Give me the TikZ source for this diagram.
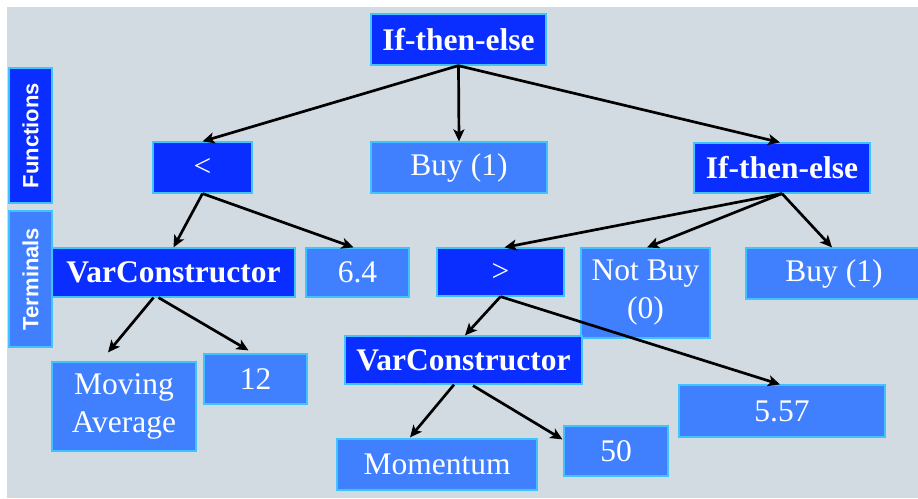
\documentclass[tikz,border=0pt]{standalone}
\usepackage{fontspec}
\setmainfont{Liberation Serif}
\newfontfamily\lsans{Liberation Sans}
\usetikzlibrary{arrows.meta}
\definecolor{bgray}{HTML}{D3DBE2}
\definecolor{dkblue}{HTML}{0A2EFF}
\definecolor{ltblue}{HTML}{4080FF}
\definecolor{edgecyan}{HTML}{40C4FF}
\tikzset{
  box/.style={draw=edgecyan, line width=1.2pt, inner sep=0pt, text=white, align=center,
    font=\fontsize{31.5}{38}\selectfont},
  dk/.style={box, fill=dkblue, font=\fontsize{31.5}{38}\selectfont\bfseries},
  dkop/.style={box, fill=dkblue},
  lt/.style={box, fill=ltblue},
  side/.style={draw=edgecyan, line width=1.2pt, inner sep=0pt, text=white, rotate=90,
    font=\fontsize{22}{24}\selectfont\lsans\bfseries},
  arr/.style={line width=2.7pt, draw=black, -{Stealth[length=12pt,width=11pt,inset=3pt]}}
}
\begin{document}
\begin{tikzpicture}[x=1pt,y=-1pt]
\useasboundingbox (0,0) rectangle (918,498);
\fill[bgray] (7,7) rectangle (918,498);

\node[side, fill=dkblue, minimum width=135pt, minimum height=43pt] (fun) at (30.5,135.5) {Functions};
\node[side, fill=ltblue, minimum width=136pt, minimum height=43pt] (ter) at (30.5,279) {Terminals};

\node[dk, minimum width=175pt, minimum height=51pt] (root) at (458.5,39.5) {If-then-else};
\node[dkop, minimum width=99pt, minimum height=51pt] (lt) at (202.5,167.5) {<};
\node[lt, minimum width=176pt, minimum height=51pt] (buya) at (459,167.5) {Buy (1)};
\node[dk, minimum width=176pt, minimum height=50pt] (ifb) at (782,168) {If-then-else};

\node[dk, minimum width=243pt, minimum height=49pt] (vca) at (173.5,272.5) {VarConstructor};
\node[lt, minimum width=103pt, minimum height=49pt] (nsf) at (357.5,272.5) {6.4};
\node[dkop, minimum width=127pt, minimum height=48pt] (gt) at (500.5,272) {>};
\node[lt, minimum width=129pt, minimum height=90pt] (nb) at (645.5,293) {Not Buy\\(0)};
\node[lt, minimum width=176pt, minimum height=51pt] (buyb) at (834,273.5) {Buy (1)};

\node[lt, minimum width=144pt, minimum height=89pt] (ma) at (124,406.5) {Moving\\Average};
\node[lt, minimum width=103pt, minimum height=50pt] (ntw) at (255.5,379) {12};
\node[dk, minimum width=237pt, minimum height=48pt] (vcb) at (463.5,360) {VarConstructor};
\node[lt, minimum width=200pt, minimum height=51pt] (mom) at (437,464.5) {Momentum};
\node[lt, minimum width=104pt, minimum height=50pt] (nff) at (616,451) {50};
\node[lt, minimum width=206pt, minimum height=52pt] (nfs) at (782,411) {5.57};

\draw[arr] (root.south) -- (lt.north);
\draw[arr] (root.south) -- (buya.north);
\draw[arr] ([xshift=-0.5pt]root.south) -- ([xshift=-2pt]ifb.north);
\draw[arr] (lt.south) -- (vca.north);
\draw[arr] (lt.south) -- ([xshift=-4pt]nsf.north);
\draw[arr] ([xshift=-20pt]vca.south) -- ([xshift=-16pt,yshift=9pt]ma.north);
\draw[arr] ([xshift=-15pt]vca.south) -- ([xshift=-7pt,yshift=3pt]ntw.north);
\draw[arr] (ifb.south) -- ([xshift=4pt]gt.north);
\draw[arr] (ifb.south) -- ([xshift=1.5pt]nb.north);
\draw[arr] (ifb.south) -- ([xshift=-2pt]buyb.north);
\draw[arr] (gt.south) -- ([xshift=1.5pt]vcb.north);
\draw[arr] (gt.south) -- ([xshift=-2pt]nfs.north);
\draw[arr] ([xshift=-9.5pt]vcb.south) -- ([xshift=-27pt,yshift=1pt]mom.north);
\draw[arr] ([xshift=9.5pt,yshift=-1pt]vcb.south) -- ([xshift=-1pt,yshift=-14pt]nff.north west);
\end{tikzpicture}
\end{document}
